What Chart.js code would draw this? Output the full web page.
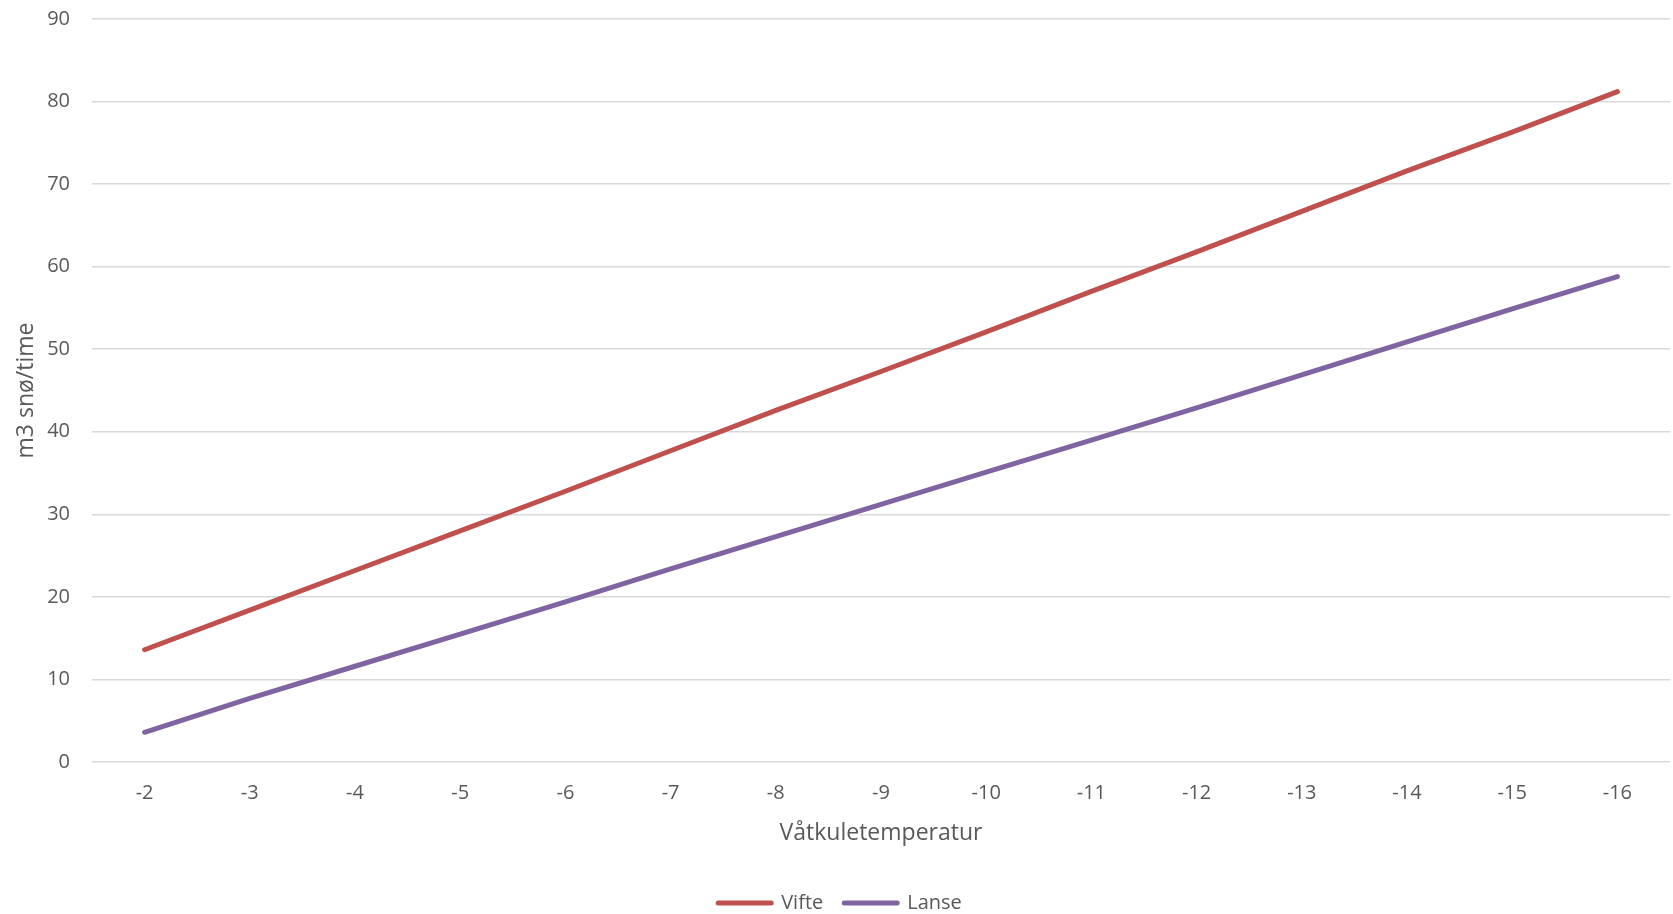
<!DOCTYPE html>
<html>
<head>
<meta charset="utf-8">
<script src="https://cdn.jsdelivr.net/npm/chart.js@4.4.1/dist/chart.umd.min.js"></script>
<style>
  html, body { margin: 0; padding: 0; background: #ffffff; overflow: hidden; }
  #wrap { width: 1673px; height: 914px; }
</style>
</head>
<body>
<div id="wrap"><canvas id="chart" width="1673" height="914"></canvas></div>
<script>
// Wet-bulb temperature categories (°C)
const temperatures = ['-2', '-3', '-4', '-5', '-6', '-7', '-8', '-9', '-10', '-11', '-12', '-13', '-14', '-15', '-16'];

// Snow production, m3 per hour
const vifte = [13.6, 18.4, 23.2, 28.0, 32.8, 37.7, 42.6, 47.3, 52.1, 57.0, 61.8, 66.7, 71.6, 76.3, 81.2];
const lanse = [3.6, 7.7, 11.6, 15.5, 19.4, 23.4, 27.3, 31.2, 35.1, 39.0, 42.9, 46.9, 50.9, 54.9, 58.8];

// Y axis range
const yMin = 0;
const yMax = 90;
const yStep = 10;

const textColor = '#595959';
const gridColor = '#d9d9d9';
const fontFamily = '"Open Sans", "Liberation Sans", sans-serif';

const lineStyle = (label, data, color) => ({
  label,
  data,
  borderColor: color,
  backgroundColor: color,
  borderWidth: 5,
  borderCapStyle: 'round',
  borderJoinStyle: 'round',
  tension: 0,
  fill: false,
  pointRadius: 0,
  pointHoverRadius: 0,
  pointBorderWidth: 5,
  pointBorderColor: color,
  pointBackgroundColor: color
});

new Chart(document.getElementById('chart'), {
  type: 'line',
  data: {
    labels: temperatures,
    datasets: [
      lineStyle('Vifte', vifte, '#c0504d'),
      lineStyle('Lanse', lanse, '#8064a2')
    ]
  },
  options: {
    responsive: false,
    animation: false,
    events: [],
    layout: { padding: { top: 19, right: 3, bottom: -9, left: 10 } },
    plugins: {
      tooltip: { enabled: false },
      legend: {
        position: 'bottom',
        align: 'center',
        labels: {
          color: textColor,
          font: { family: fontFamily, size: 20 },
          usePointStyle: true,
          pointStyle: 'line',
          pointStyleWidth: 53,
          padding: 21,
          generateLabels(chart) {
            const items = Chart.defaults.plugins.legend.labels.generateLabels(chart);
            return items.map(it => Object.assign(it, { lineCap: 'round', lineWidth: 5 }));
          }
        }
      }
    },
    scales: {
      x: {
        type: 'category',
        offset: true,
        grid: { display: false, drawTicks: false },
        border: { display: false },
        ticks: {
          color: textColor,
          font: { family: fontFamily, size: 20 },
          padding: 19,
          maxRotation: 0,
          autoSkip: false
        },
        title: {
          display: true,
          text: 'Våtkuletemperatur',
          color: textColor,
          font: { family: fontFamily, size: 23 },
          padding: { top: 0, bottom: 25 }
        },
        afterFit(scale) { scale.height = 110; }
      },
      y: {
        min: yMin,
        max: yMax,
        grid: { color: gridColor, lineWidth: 1.5, drawTicks: false },
        border: { display: false },
        ticks: {
          stepSize: yStep,
          color: textColor,
          font: { family: fontFamily, size: 20 },
          padding: 22
        },
        title: {
          display: true,
          text: 'm3 snø/time',
          color: textColor,
          font: { family: fontFamily, size: 23 },
          padding: { top: 3, bottom: 3 }
        },
        afterFit(scale) {
          scale.width = 82;
          scale.paddingTop = 0;
          scale.paddingBottom = 0;
        }
      }
    }
  }
});
</script>
</body>
</html>
